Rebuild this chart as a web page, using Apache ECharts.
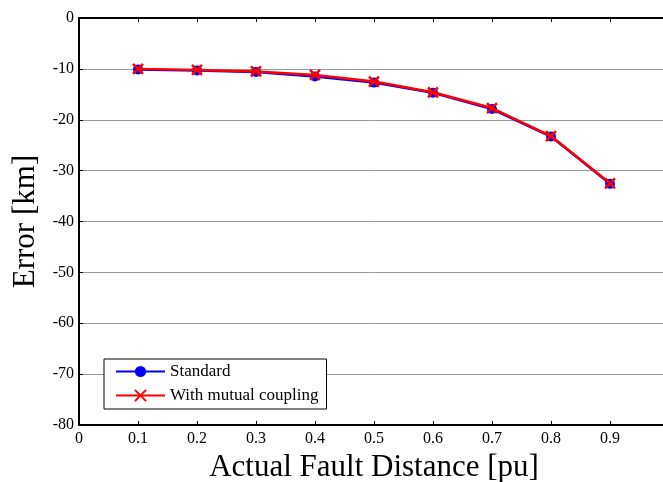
<!DOCTYPE html>
<html><head><meta charset="utf-8">
<script src="https://cdn.jsdelivr.net/npm/echarts@6/dist/echarts.min.js"></script>
<style>html,body{margin:0;padding:0;background:#fff}#c{width:663px;height:482px}</style>
</head><body><div id="c"></div>
<script>
const xValues = [0.1, 0.2, 0.3, 0.4, 0.5, 0.6, 0.7, 0.8, 0.9];
const standard = [-10.1, -10.3, -10.6, -11.5, -12.7, -14.7, -17.9, -23.3, -32.6];
const mutual = [-10.0, -10.2, -10.5, -11.2, -12.5, -14.6, -17.7, -23.2, -32.5];
const seriesNames = ['Standard', 'With mutual coupling'];
const xTitle = 'Actual Fault Distance [pu]';
const yTitle = 'Error [km]';

const font = 'Liberation Serif, Times New Roman, serif';
const chart = echarts.init(document.getElementById('c'), null, {renderer: 'canvas'});
const xMark = 'path://M0,0L10,10M10,0L0,10';
chart.setOption({
  animation: false,
  grid: {left: 79, top: 18, width: 590, height: 407, containLabel: false, outerBoundsMode: 'none'},
  legend: {
    left: 104, top: 359, orient: 'vertical',
    backgroundColor: '#fff', borderColor: '#000', borderWidth: 1,
    padding: [4, 8, 5, 11], itemGap: 7, itemWidth: 49, itemHeight: 14,
    textStyle: {fontFamily: font, fontSize: 17, color: '#000'},
    data: seriesNames
  },
  xAxis: [{
    type: 'value', min: 0, max: 1, interval: 0.1,
    name: xTitle, nameLocation: 'middle', nameGap: 23,
    nameTextStyle: {fontFamily: font, fontSize: 31, color: '#000', verticalAlign: 'top'},
    axisLine: {onZero: false, lineStyle: {color: '#000', width: 2}},
    axisTick: {inside: true, length: 4, lineStyle: {color: '#000'}},
    axisLabel: {fontFamily: font, fontSize: 16, color: '#000', margin: 6,
      formatter: v => v >= 0.999 ? '' : (Math.round(v * 10) / 10).toString()},
    splitLine: {show: false}
  }, {
    type: 'value', min: 0, max: 1, interval: 0.1, position: 'top',
    axisLine: {onZero: false, lineStyle: {color: '#000', width: 2}},
    axisTick: {inside: true, length: 4, lineStyle: {color: '#000'}},
    axisLabel: {show: false}, splitLine: {show: false}
  }],
  yAxis: {
    type: 'value', min: -80, max: 0, interval: 10,
    name: yTitle, nameLocation: 'middle', nameGap: 37,
    nameTextStyle: {fontFamily: font, fontSize: 31, color: '#000'},
    axisLine: {show: true, onZero: false, lineStyle: {color: '#000', width: 2}},
    axisTick: {show: true, inside: true, length: 4, lineStyle: {color: '#000'}},
    axisLabel: {fontFamily: font, fontSize: 16, color: '#000', margin: 5},
    splitLine: {show: true, lineStyle: {color: '#999', width: 1}}
  },
  series: [{
    name: seriesNames[0], type: 'line', xAxisIndex: 0,
    data: xValues.map((x, i) => [x, standard[i]]),
    symbol: 'circle', symbolSize: 10,
    lineStyle: {color: '#0000ff', width: 2.5},
    itemStyle: {color: '#0000ff'}, z: 2
  }, {
    name: seriesNames[1], type: 'line', xAxisIndex: 0,
    data: xValues.map((x, i) => [x, mutual[i]]),
    symbol: xMark, symbolSize: 10,
    lineStyle: {color: '#ff0000', width: 2.5},
    itemStyle: {color: 'rgba(0,0,0,0)', borderColor: '#ff0000', borderWidth: 2.5}, z: 3
  }]
});
</script></body></html>
